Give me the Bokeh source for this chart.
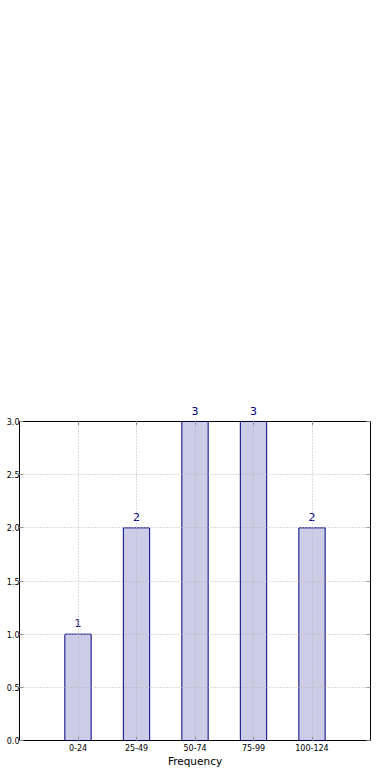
from bokeh.plotting import figure
from bokeh.models import (ColumnDataSource, Label, FixedTicker, Range1d,
                          LinearAxis, PrintfTickFormatter)
from bokeh.embed import file_html
from bokeh.resources import INLINE

categories = ["0-24", "25-49", "50-74", "75-99", "100-124"]
counts = [1, 2, 3, 3, 2]
y_ticks = [0.0, 0.5, 1.0, 1.5, 2.0, 2.5, 3.0]
y_max = 3.0

xs = list(range(len(categories)))
src = ColumnDataSource(data=dict(x=xs, top=counts))

FONT = "DejaVu Sans"

p = figure(width=382, height=772, output_backend="svg", toolbar_location=None,
           x_range=Range1d(-1, len(categories)), y_range=Range1d(0, y_max),
           min_border_left=19, min_border_right=12, min_border_top=421,
           min_border_bottom=32, background_fill_color="white",
           border_fill_color="white")
p.outline_line_color = "black"
p.outline_line_width = 1

p.vbar(x="x", top="top", width=0.45, bottom=0, source=src,
       fill_color="navy", fill_alpha=0.2, line_color="navy", line_width=1)

# value labels inside the frame
for xi, c in zip(xs, counts):
    if c < y_max:
        p.add_layout(Label(x=xi, y=c, text=str(c), text_align="center",
                           text_baseline="bottom", y_offset=7, text_color="navy",
                           text_font_size="11px", text_font=FONT))

overrides = {i: c for i, c in enumerate(categories)}

def style_axis(ax, show_labels=True):
    ax.axis_line_color = None
    ax.major_tick_line_color = "#888888"
    ax.major_tick_in = 4
    ax.major_tick_out = 0
    ax.minor_tick_line_color = None
    ax.major_label_text_font = FONT
    ax.major_label_text_font_size = "8px"
    ax.major_label_text_color = "black" if show_labels else None
    ax.major_label_standoff = 3

xa = p.xaxis[0]
xa.ticker = FixedTicker(ticks=xs)
xa.major_label_overrides = overrides
style_axis(xa)
xa.axis_label = "Frequency"
xa.axis_label_text_font = FONT
xa.axis_label_text_font_style = "normal"
xa.axis_label_text_font_size = "10.5px"
xa.axis_label_text_color = "black"
xa.axis_label_standoff = 1

ya = p.yaxis[0]
ya.ticker = FixedTicker(ticks=y_ticks)
ya.formatter = PrintfTickFormatter(format="%.1f")
style_axis(ya)
ya.major_label_standoff = 0

# top axis: mirrored ticks, and the value labels of bars reaching the top
top_ax = LinearAxis(ticker=FixedTicker(ticks=xs))
style_axis(top_ax)
top_ax.major_label_overrides = {xi: (str(c) if c >= y_max else "")
                                for xi, c in zip(xs, counts)}
top_ax.major_label_text_color = "navy"
top_ax.major_label_text_font_size = "11px"
top_ax.major_label_standoff = 7
p.add_layout(top_ax, "above")

right_ax = LinearAxis(ticker=FixedTicker(ticks=y_ticks))
style_axis(right_ax, False)
right_ax.major_label_text_font_size = "0px"
right_ax.major_label_standoff = 0
p.add_layout(right_ax, "right")

for g in (p.xgrid[0], p.ygrid[0]):
    g.grid_line_color = "#b8b8b8"
    g.grid_line_dash = "1 2"
    g.grid_line_width = 1
    g.level = "overlay"
p.xgrid[0].ticker = FixedTicker(ticks=xs)
p.ygrid[0].ticker = FixedTicker(ticks=y_ticks)

open("out.html", "w").write(file_html(p, INLINE))
